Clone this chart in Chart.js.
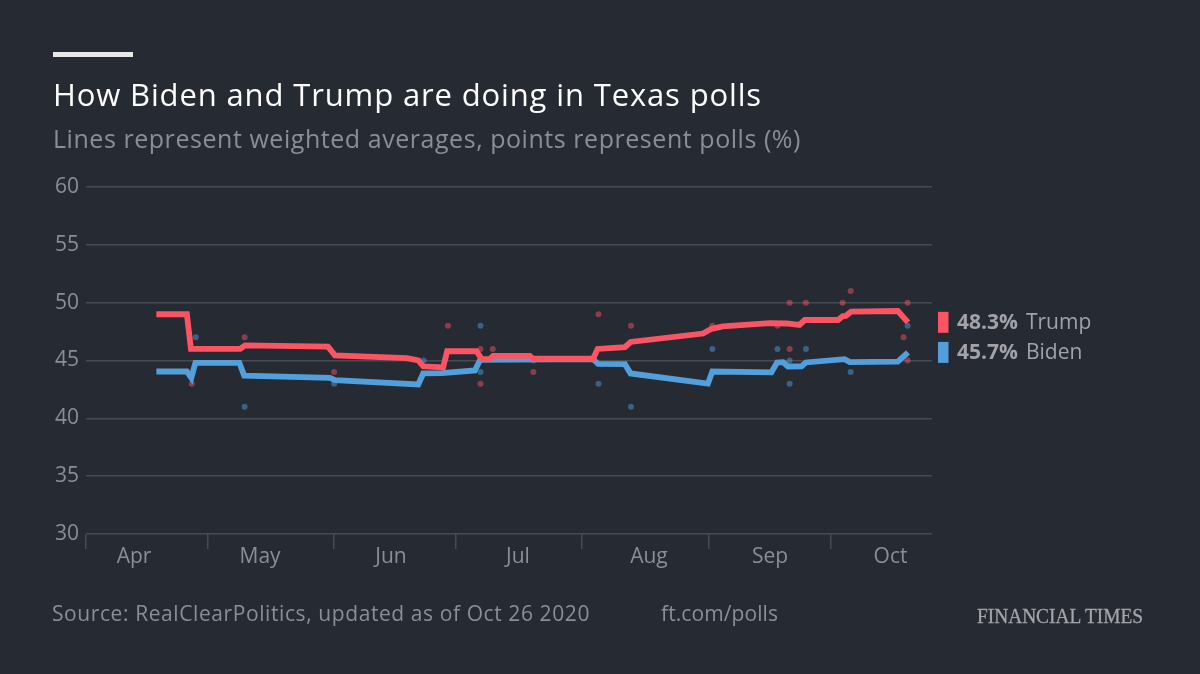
<!DOCTYPE html>
<html><head><meta charset="utf-8">
<script src="https://cdn.jsdelivr.net/npm/chart.js@4.4.0/dist/chart.umd.min.js"></script>
<style>
html,body{margin:0;padding:0;background:#262a33;width:1200px;height:674px;overflow:hidden;}
#wrap{position:relative;width:1200px;height:674px;}
canvas{position:absolute;left:0;top:0;}
.t{position:absolute;white-space:nowrap;font-family:"Open Sans",sans-serif;line-height:1;display:inline-block;}
#bar{position:absolute;left:53px;top:52px;width:80px;height:5px;background:#e8e8e8;}
#title{left:53px;top:79px;font-size:31px;color:#ffffff;}
#sub{left:53px;top:126px;font-size:25px;color:#8c8e95;}
#src{left:52px;top:603px;font-size:21px;color:#8c8e95;}
#url{left:661px;top:603px;font-size:21px;color:#8c8e95;}
#ft{left:977px;top:606px;font-size:20px;color:#a4a5aa;font-family:"Liberation Serif",serif;transform-origin:0 0;-webkit-text-stroke:0.3px #a4a5aa;}
</style></head>
<body><div id="wrap">
<canvas id="c" width="1200" height="674"></canvas>
<div id="bar"></div>
<div class="t" id="title" data-w="709">How Biden and Trump are doing in Texas polls</div>
<div class="t" id="sub" data-w="748">Lines represent weighted averages, points represent polls (%)</div>
<div class="t" id="src" data-w="538">Source: RealClearPolitics, updated as of Oct 26 2020</div>
<div class="t" id="url" data-w="117">ft.com/polls</div>
<div class="t" id="ft" data-scale="166">FINANCIAL TIMES</div>
</div>
<script>
// ---- data (x = days since 1 April 2020) ----
const MONTH_NAMES = ['Apr','May','Jun','Jul','Aug','Sep','Oct'];
const MONTH_START_DAYS = [0,30,61,91,122,153,183];
const MONTH_LABEL_DAYS = [11.8,42.8,75,106.2,138.4,168.2,197.8];
const X_MAX_DAY = 208;
const Y_TICKS = [30,35,40,45,50,55,60];

const TRUMP_AVG_DAYS = [17.3,24.8,25.8,37.9,39.1,59.5,61.2,78.9,81.7,82.9,87.8,88.8,96.0,97.3,99.3,100.1,109.1,109.9,124.7,125.8,132.5,133.9,151.7,153.8,156.6,168.1,172.2,175.4,176.7,184.9,186.1,186.8,188.1,199.6,202.1];
const TRUMP_AVG = [49.0,49.0,46.0,46.0,46.3,46.2,45.45,45.2,45.0,44.5,44.4,45.8,45.8,45.12,45.12,45.4,45.4,45.17,45.17,46.0,46.15,46.6,47.33,47.74,47.95,48.23,48.2,48.08,48.5,48.5,48.84,48.86,49.22,49.28,48.3];

const BIDEN_AVG_DAYS = [17.3,24.8,25.9,26.9,37.7,38.9,60.0,61.2,81.7,82.9,87.5,95.6,96.9,124.7,125.9,132.5,133.9,152.9,154.0,168.5,169.9,171.4,172.6,175.9,177.0,186.5,187.8,199.6,202.1];
const BIDEN_AVG = [44.05,44.05,43.5,44.8,44.8,43.7,43.5,43.3,42.93,43.88,43.9,44.14,45.05,45.12,44.7,44.68,43.88,43.0,44.05,43.97,44.83,44.85,44.48,44.5,44.83,45.12,44.86,44.9,45.7];

const TRUMP_POLL_DAYS = [26,39,61,89,97,97,100,110,126,134,154,170,173,173,177,186,188,201,202,202];
const TRUMP_POLLS = [43,47,44,48,46,43,46,44,49,48,48,48,50,46,50,50,51,47,50,45];
const BIDEN_POLL_DAYS = [27,39,61,83,97,97,110,126,134,154,170,173,173,177,188,202];
const BIDEN_POLLS = [47,41,43,45,48,44,45,43,41,46,46,45,43,46,44,48];

// ---- styles ----
const RED = '#fc5462', BLUE = '#529fdc';
const RED_DOT = 'rgba(252,84,98,0.47)', BLUE_DOT = 'rgba(82,159,220,0.47)';
const GRID = '#474a52', TXT = '#8c8e95', LEG = '#a2a3a9';
const FONT = '"Open Sans", sans-serif';

// fit header/footer text widths
document.querySelectorAll('[data-w]').forEach(el=>{
  const target = +el.dataset.w, w = el.getBoundingClientRect().width, n = el.textContent.length;
  el.style.letterSpacing = ((target - w)/n) + 'px';
});
document.querySelectorAll('[data-scale]').forEach(el=>{
  const target = +el.dataset.scale, w = el.getBoundingClientRect().width;
  el.style.transform = 'scaleX(' + (target/w) + ')';
});

const toXY = (xs, ys) => xs.map((x,i)=>({x, y: ys[i]}));
const ALL_X_TICKS = MONTH_START_DAYS.concat(MONTH_LABEL_DAYS).sort((a,b)=>a-b);

const endLabels = {
  id:'endLabels',
  afterDatasetsDraw(chart){
    const {ctx, chartArea, scales:{y}} = chart;
    const items = [
      {v: TRUMP_AVG[TRUMP_AVG.length-1], name:'Trump', color:RED},
      {v: BIDEN_AVG[BIDEN_AVG.length-1], name:'Biden', color:BLUE}
    ];
    ctx.save();
    items.forEach(it=>{
      const py = y.getPixelForValue(it.v);
      const x0 = chartArea.right + 6;
      ctx.fillStyle = it.color;
      ctx.fillRect(x0, py - 10.5, 10.5, 21);
      ctx.textBaseline = 'middle';
      ctx.fillStyle = LEG;
      ctx.font = 'bold 21px ' + FONT;
      const s = it.v.toFixed(1) + '%';
      ctx.fillText(s, x0 + 19, py + 1);
      const w = ctx.measureText(s).width;
      ctx.font = '21px ' + FONT;
      ctx.fillText(it.name, x0 + 19 + w + 8, py + 1);
    });
    ctx.restore();
  }
};

new Chart(document.getElementById('c'), {
  type:'line',
  data:{datasets:[
    {label:'Trump', data:toXY(TRUMP_AVG_DAYS,TRUMP_AVG), borderColor:RED, borderWidth:5.8, pointRadius:0, tension:0, order:0, borderJoinStyle:'miter'},
    {label:'Biden', data:toXY(BIDEN_AVG_DAYS,BIDEN_AVG), borderColor:BLUE, borderWidth:5.8, pointRadius:0, tension:0, order:1, borderJoinStyle:'miter'},
    {label:'Trump polls', data:toXY(TRUMP_POLL_DAYS,TRUMP_POLLS), showLine:false, pointRadius:3, pointBorderWidth:0, pointBackgroundColor:RED_DOT, order:2},
    {label:'Biden polls', data:toXY(BIDEN_POLL_DAYS,BIDEN_POLLS), showLine:false, pointRadius:3, pointBorderWidth:0, pointBackgroundColor:BLUE_DOT, order:3}
  ]},
  options:{
    responsive:false, animation:false, events:[],
    layout:{padding:{left:0, top:187, right:268, bottom:80}},
    plugins:{legend:{display:false}, tooltip:{enabled:false}},
    scales:{
      x:{
        type:'linear', min:0, max:X_MAX_DAY,
        afterBuildTicks(s){ s.ticks = ALL_X_TICKS.map(v=>({value:v})); },
        afterFit(s){ s.height = 60; },
        grid:{drawOnChartArea:false, tickLength:15, lineWidth:1.5,
          color:(c)=> (c.tick && MONTH_START_DAYS.includes(c.tick.value)) ? GRID : 'rgba(0,0,0,0)'},
        border:{display:false},
        ticks:{autoSkip:false, maxRotation:0, padding:-5, color:TXT, font:{family:FONT, size:21},
          callback:(v)=>{ const i = MONTH_LABEL_DAYS.indexOf(v); return i>=0 ? MONTH_NAMES[i] : ''; }}
      },
      y:{
        min:30, max:60,
        afterBuildTicks(s){ s.ticks = Y_TICKS.map(v=>({value:v})); },
        afterFit(s){ s.width = 86; },
        grid:{color:GRID, lineWidth:1.5, drawTicks:false},
        border:{display:false},
        ticks:{padding:7, color:TXT, font:{family:FONT, size:21}}
      }
    }
  },
  plugins:[endLabels]
});
</script>
</body></html>
